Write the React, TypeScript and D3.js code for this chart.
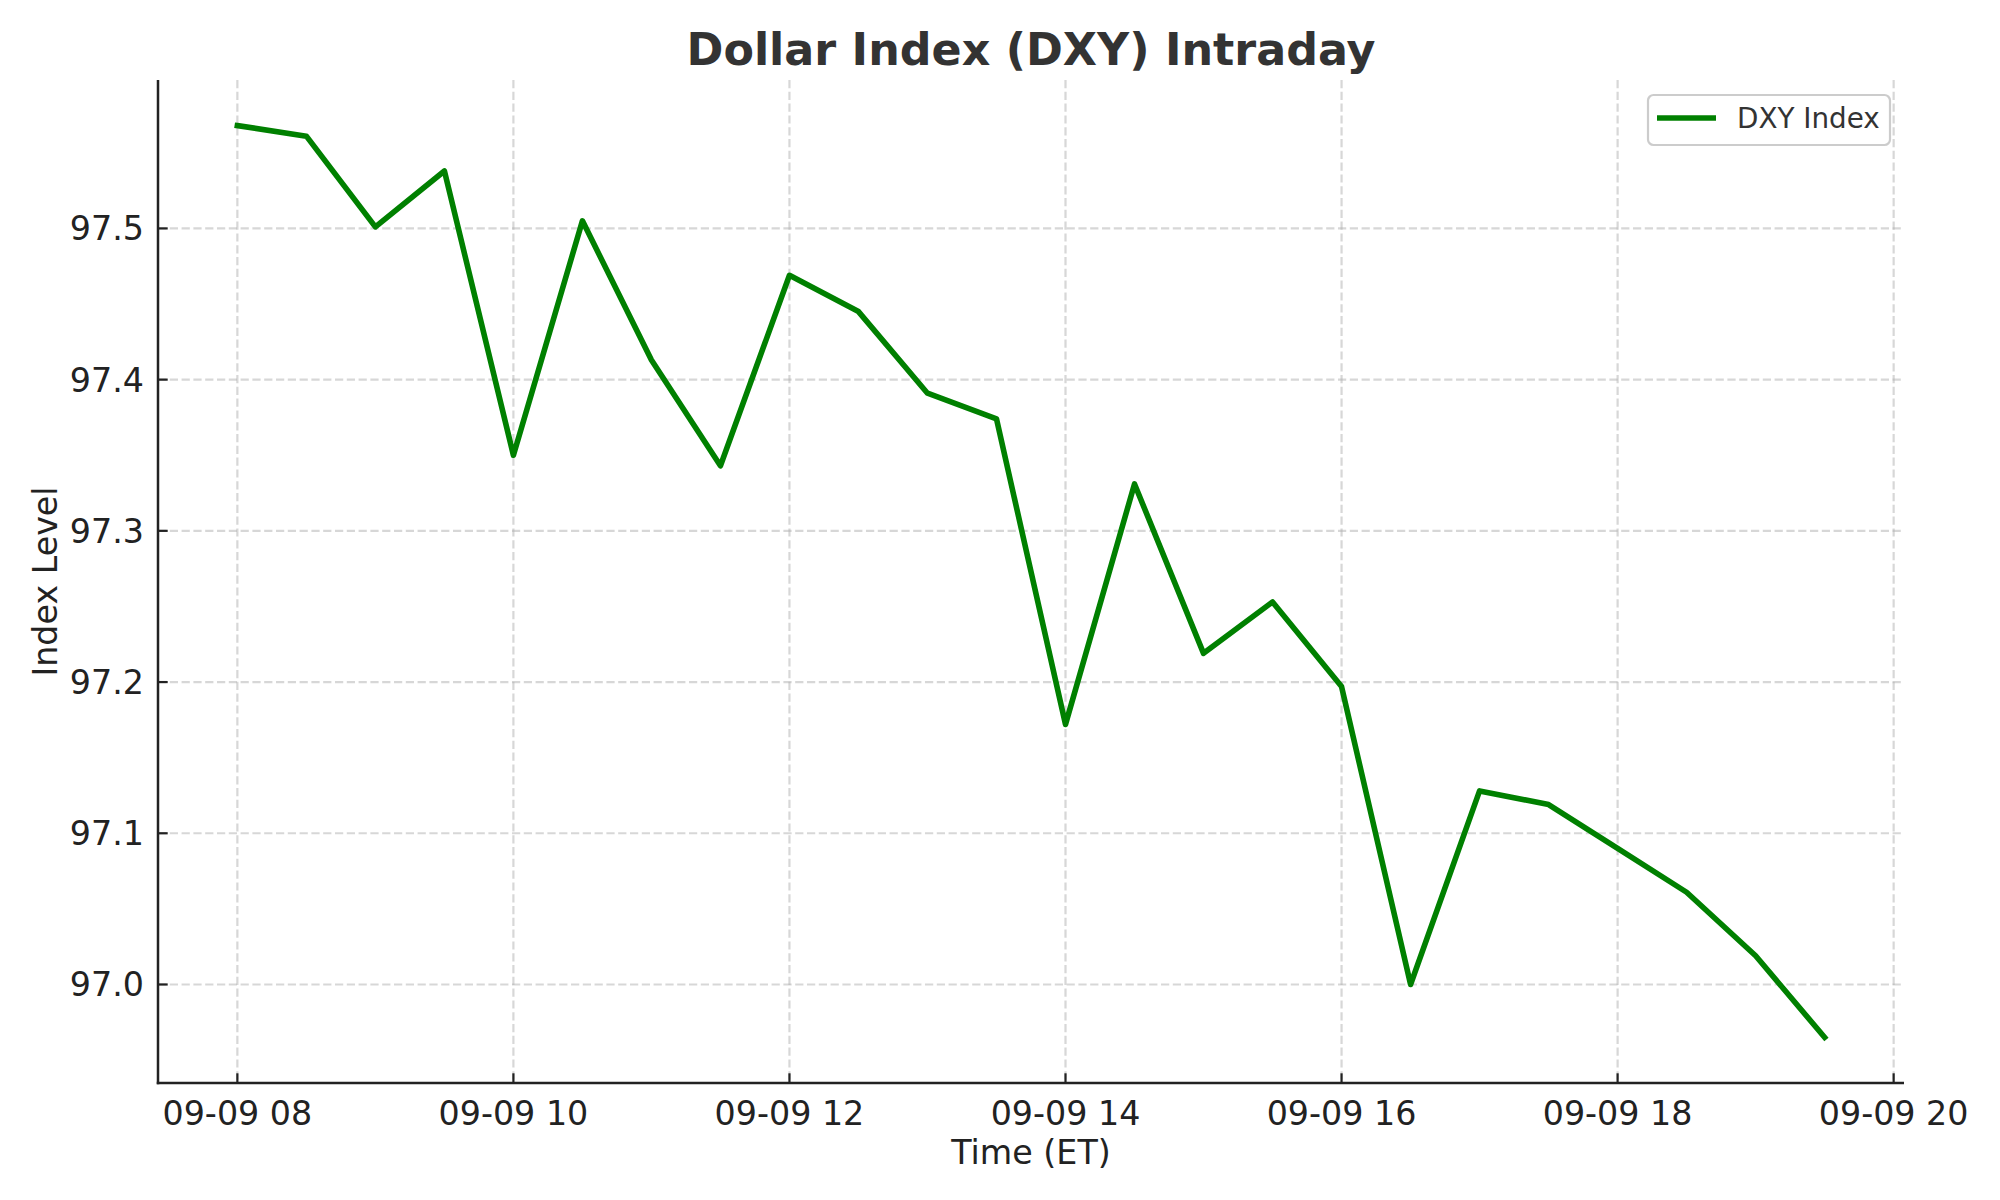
import React from "react";
import { scaleUtc, scaleLinear, line, utcHour, utcFormat } from "d3";

// half-hour samples on 09-09, ET
const times = [
  "08:00", "08:30", "09:00", "09:30", "10:00", "10:30", "11:00", "11:30",
  "12:00", "12:30", "13:00", "13:30", "14:00", "14:30", "15:00", "15:30",
  "16:00", "16:30", "17:00", "17:30", "18:00", "18:30", "19:00", "19:30",
];
const dxyValues = [
  97.568, 97.561, 97.501, 97.538, 97.35, 97.505, 97.413, 97.343,
  97.469, 97.445, 97.391, 97.374, 97.172, 97.331, 97.219, 97.253,
  97.197, 97.0, 97.128, 97.119, 97.09, 97.061, 97.019, 96.965,
];
const yTicks = [97.0, 97.1, 97.2, 97.3, 97.4, 97.5];

const toDate = (t: string) => {
  const [h, m] = t.split(":").map(Number);
  return new Date(Date.UTC(2025, 8, 9, h, m));
};

interface Point {
  t: Date;
  v: number;
}
const data: Point[] = times.map((t, i) => ({ t: toDate(t), v: dxyValues[i] }));

const W = 2000;
const H = 1200;
const left = 158;
const right = 1904;
const top = 80;
const bottom = 1083;
const font = "DejaVu Sans, sans-serif";

export default function App() {
  // matplotlib-style 5% padding on both axes
  const t0 = data[0].t.getTime();
  const t1 = data[data.length - 1].t.getTime();
  const padT = (t1 - t0) * 0.05;
  const x = scaleUtc()
    .domain([new Date(t0 - padT), new Date(t1 + padT)])
    .range([left, right]);

  const vMin = Math.min(...dxyValues);
  const vMax = Math.max(...dxyValues);
  const padV = (vMax - vMin) * 0.05;
  const y = scaleLinear()
    .domain([vMin - padV, vMax + padV])
    .range([bottom, top]);

  const xTicks = x.ticks(utcHour.every(2)!);
  const fmt = utcFormat("%m-%d %H");

  const path = line<Point>()
    .x((d) => x(d.t))
    .y((d) => y(d.v))(data);

  return (
    <svg
      width={W}
      height={H}
      viewBox={`0 0 ${W} ${H}`}
      style={{ position: "absolute", left: 0, top: 0, background: "#fff" }}
    >
      <rect width={W} height={H} fill="#fff" />

      {/* grid */}
      <g stroke="#b0b0b0" strokeOpacity={0.5} strokeWidth={2.2} strokeDasharray="8.2 3.6">
        {xTicks.map((t, i) => (
          <line key={"gx" + i} x1={x(t)} x2={x(t)} y1={top} y2={bottom} />
        ))}
        {yTicks.map((v, i) => (
          <line key={"gy" + i} x1={left} x2={right} y1={y(v)} y2={y(v)} />
        ))}
      </g>

      {/* series */}
      <path
        d={path ?? ""}
        fill="none"
        stroke="#008000"
        strokeWidth={5.6}
        strokeLinejoin="round"
        strokeLinecap="square"
      />

      {/* spines */}
      <line x1={left} x2={left} y1={top} y2={bottom + 1.25} stroke="#222" strokeWidth={2.5} />
      <line x1={left - 1.25} x2={right} y1={bottom} y2={bottom} stroke="#222" strokeWidth={2.5} />

      {/* x ticks */}
      <g fontFamily={font} fontSize={33.3} fill="#222" textAnchor="middle">
        {xTicks.map((t, i) => (
          <g key={"xt" + i}>
            <line x1={x(t)} x2={x(t)} y1={bottom} y2={bottom - 9.7} stroke="#222" strokeWidth={2.2} />
            <text x={x(t)} y={bottom + 10} dy="0.95em">
              {fmt(t)}
            </text>
          </g>
        ))}
      </g>

      {/* y ticks */}
      <g fontFamily={font} fontSize={33.3} fill="#222" textAnchor="end">
        {yTicks.map((v, i) => (
          <g key={"yt" + i}>
            <line x1={left} x2={left + 9.7} y1={y(v)} y2={y(v)} stroke="#222" strokeWidth={2.2} />
            <text x={left - 14} y={y(v)} dy="0.36em">
              {v.toFixed(1)}
            </text>
          </g>
        ))}
      </g>

      {/* axis labels */}
      <text
        x={(left + right) / 2}
        y={1152}
        dy="0.36em"
        textAnchor="middle"
        fontFamily={font}
        fontSize={33.3}
        fill="#222"
      >
        Time (ET)
      </text>
      <text
        transform={`translate(45,${(top + bottom) / 2}) rotate(-90)`}
        dy="0.36em"
        textAnchor="middle"
        fontFamily={font}
        fontSize={33.3}
        fill="#222"
      >
        Index Level
      </text>

      {/* title */}
      <text
        x={(left + right) / 2}
        y={49}
        dy="0.36em"
        textAnchor="middle"
        fontFamily={font}
        fontWeight="bold"
        fontSize={44.4}
        fill="#333"
      >
        Dollar Index (DXY) Intraday
      </text>

      {/* legend */}
      <g>
        <rect
          x={1648}
          y={95}
          width={242}
          height={50}
          rx={5.6}
          fill="#fff"
          fillOpacity={0.8}
          stroke="#cccccc"
          strokeWidth={2.2}
        />
        <line x1={1657} x2={1716} y1={118} y2={118} stroke="#008000" strokeWidth={5.6} />
        <text x={1737} y={118} dy="0.36em" fontFamily={font} fontSize={27.8} fill="#333">
          DXY Index
        </text>
      </g>
    </svg>
  );
}
